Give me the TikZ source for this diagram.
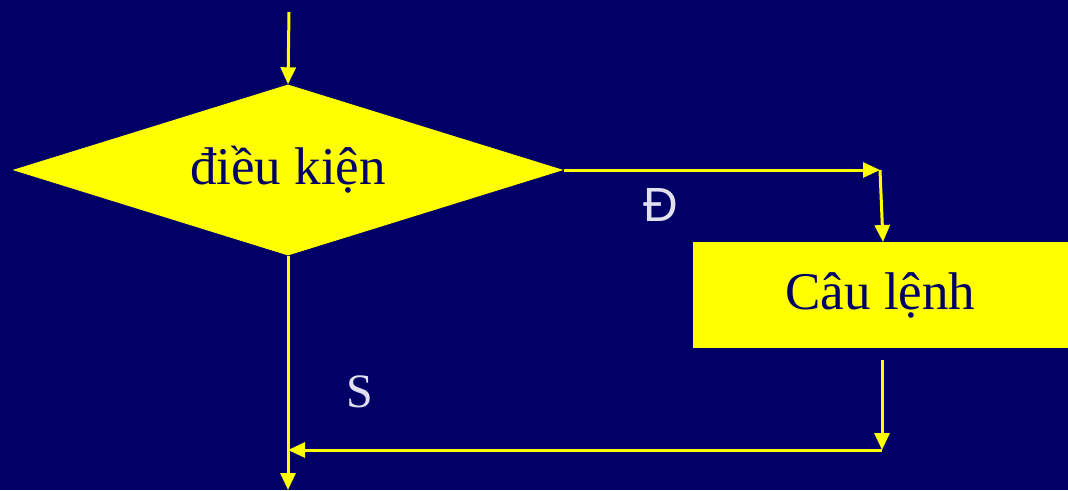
\documentclass[tikz,border=0pt]{standalone}
\usepackage{fontspec}
\setmainfont{Liberation Serif}
\newfontfamily\labsans{Liberation Sans}
\usetikzlibrary{shapes.geometric,arrows.meta}
\definecolor{bg}{RGB}{0,0,102}
\definecolor{yel}{RGB}{255,255,0}
\definecolor{lab}{RGB}{224,224,238}
\tikzset{
  arr/.style={draw=yel, line width=3pt, -{Triangle[length=17pt,width=15pt]}},
  lbl/.style={text=lab, inner sep=0pt},
}
\begin{document}
\begin{tikzpicture}[x=1pt,y=-1pt]
\fill[bg] (0,0) rectangle (1068,490);
\useasboundingbox (0,0) rectangle (1068,490);
\node[diamond, fill=yel, inner sep=0pt, minimum width=551pt, minimum height=171pt, aspect=3.22, text=bg, font=\fontsize{53}{60}\selectfont] (diam) at (288,170) {điều kiện};
\node[rectangle, fill=yel, inner sep=0pt, minimum width=375pt, minimum height=106pt, text=bg, font=\fontsize{53}{60}\selectfont] (box) at (880.5,295) {Câu lệnh};
\coordinate (top) at (289,12);
\coordinate (r1) at (880,170);
\coordinate (b1) at (883,242);
\coordinate (b2) at (882,360);
\coordinate (b3) at (882,450);
\coordinate (l3) at (288,450);
\coordinate (bot) at (288,490);
\draw[arr] (top) -- (diam.north);
\draw[arr] (diam.east) -- (r1);
\draw[arr] (r1) -- (b1);
\draw[arr] (b2) -- (b3);
\draw[arr] (b3) -- (l3);
\draw[arr] (diam.south) -- (bot);
\node[lbl, font=\labsans\fontsize{48}{56}\selectfont] (dlab) at (661,205) {Đ};
\node[lbl, font=\fontsize{48}{56}\selectfont] (slab) at (360,392) {S};
\end{tikzpicture}
\end{document}
